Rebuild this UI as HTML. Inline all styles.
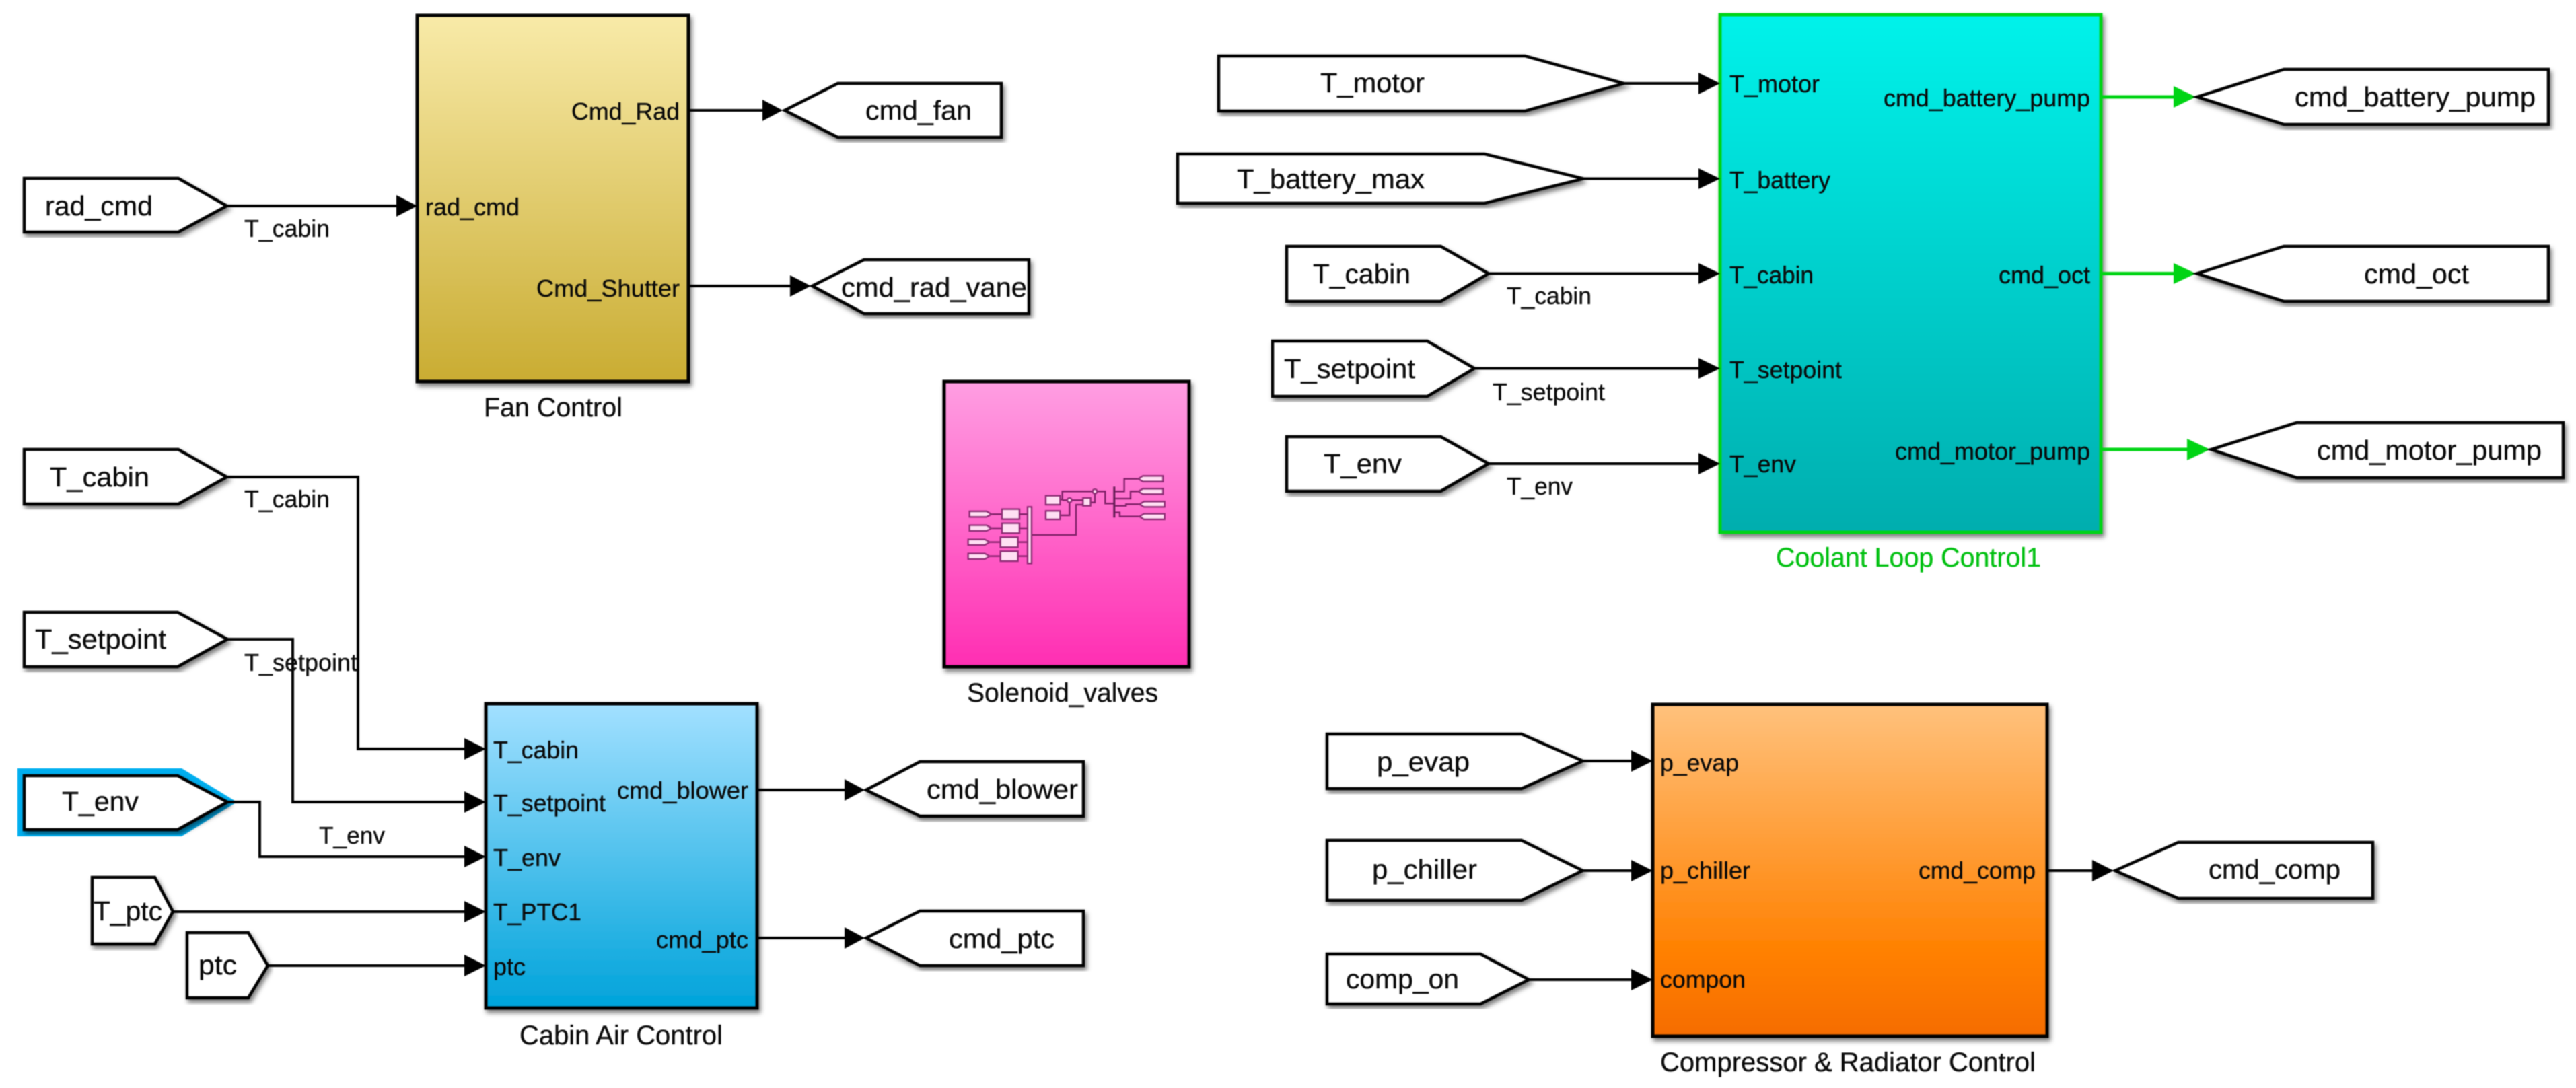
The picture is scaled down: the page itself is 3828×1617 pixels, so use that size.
<!DOCTYPE html>
<html><head><meta charset="utf-8"><title>Control diagram</title>
<style>
html,body{margin:0;padding:0;background:#fff;width:3828px;height:1617px;overflow:hidden}
svg{display:block;filter:blur(.7px)}
text{font-family:"Liberation Sans",sans-serif;fill:#0a0a0a;stroke:#0a0a0a;stroke-width:.35px}
.p{font-size:36px}.g{font-size:41px}.n{font-size:39.5px}
.go{fill:#fff;stroke:#000;stroke-width:4.5;stroke-linejoin:miter;filter:url(#sh)}
.b{stroke:#000;stroke-width:5;filter:url(#sh)}
.w{fill:none;stroke:#000;stroke-width:4}
.gw{fill:none;stroke:#00d414;stroke-width:5}
.m{fill:#ffdff3;stroke:#8a2a72;stroke-width:7}
.ml{fill:none;stroke:#7d1f66;stroke-width:7}
</style></head><body>
<svg xmlns="http://www.w3.org/2000/svg" width="3828" height="1617" viewBox="0 0 3828 1617">
<defs>
<filter id="sh" x="-5%" y="-5%" width="112%" height="115%"><feDropShadow dx="3" dy="5" stdDeviation="3.5" flood-color="#000" flood-opacity=".5"/></filter>
<linearGradient id="fan" x1="0" y1="0" x2="0" y2="1"><stop offset="0" stop-color="#f8eaa8"/><stop offset="1" stop-color="#c9ac32"/></linearGradient>
<linearGradient id="cab" x1="0" y1="0" x2="0" y2="1"><stop offset="0" stop-color="#a2e0ff"/><stop offset="1" stop-color="#00a3da"/></linearGradient>
<linearGradient id="cool" x1="0" y1="0" x2="0" y2="1"><stop offset="0" stop-color="#00f2ea"/><stop offset="1" stop-color="#00adae"/></linearGradient>
<linearGradient id="or" x1="0" y1="0" x2="0" y2="1"><stop offset="0" stop-color="#ffc17c"/><stop offset=".75" stop-color="#ff8000"/><stop offset="1" stop-color="#f56c00"/></linearGradient>
<linearGradient id="pk" x1="0" y1="0" x2="0" y2="1"><stop offset="0" stop-color="#ff9ee2"/><stop offset="1" stop-color="#ff2eb2"/></linearGradient>
</defs>

<!-- blocks -->
<rect class="b" x="620" y="23" width="403" height="544" fill="url(#fan)"/>
<rect class="b" x="722" y="1046" width="403" height="452" fill="url(#cab)"/>
<rect class="b" x="1403" y="567" width="364" height="424" fill="url(#pk)"/>
<rect x="2556" y="22" width="566" height="769" fill="url(#cool)" stroke="#00d414" stroke-width="5" filter="url(#sh)"/>
<rect class="b" x="2456" y="1047" width="586" height="493" fill="url(#or)"/>

<!-- mini diagram -->
<g transform="translate(1380 550) scale(.3333)">
<path class="ml" d="M280 643H327M280 705H327M272 767H320M272 830H320M405 643H441M405 705H441M398 767H441M398 830H441M459 735H657V600H688M586 577H596V541H731M596 580H618M586 648H628V590M638 580H688M722 590H741V551M751 541H787V595H825M832 541H872V485H935M832 573H900V541H935M832 605H880V598H940M832 635H852V653H940"/>
<polygon class="m" points="182,630 258,630 280,643 258,655 182,655"/>
<polygon class="m" points="182,692 258,692 280,705 258,717 182,717"/>
<polygon class="m" points="176,755 250,755 272,767 250,780 176,780"/>
<polygon class="m" points="176,818 250,818 272,830 250,843 176,843"/>
<rect class="m" x="327" y="620" width="78" height="45"/><rect class="m" x="327" y="683" width="78" height="44"/>
<rect class="m" x="320" y="745" width="78" height="45"/><rect class="m" x="320" y="808" width="78" height="44"/>
<rect class="m" x="441" y="610" width="18" height="252"/>
<rect class="m" x="522" y="560" width="64" height="40"/><rect class="m" x="522" y="628" width="64" height="38"/>
<rect class="m" x="688" y="570" width="34" height="35"/>
<circle class="m" cx="628" cy="580" r="10"/><circle class="m" cx="741" cy="541" r="10"/>
<rect x="823" y="520" width="9" height="138" fill="#5e1a50"/>
<polygon class="m" points="935,485 955,472 1045,472 1045,497 955,497"/>
<polygon class="m" points="935,541 955,529 1045,529 1045,553 955,553"/>
<polygon class="m" points="940,598 960,586 1052,586 1052,610 960,610"/>
<polygon class="m" points="940,653 960,641 1052,641 1052,666 960,666"/>
</g>

<!-- T_env highlight -->
<polygon points="26,1142 270,1142 352,1192 270,1243 26,1243" fill="#00aeef"/>

<!-- wires black -->
<path class="w" d="M337 306H595M1023 164H1135M1023 425H1176"/>
<path class="w" d="M337 709H532V1113H695M338 950H435V1192H695M338 1192H386V1273H695M257 1355H695M398 1435H695"/>
<path class="w" d="M1125 1174H1258M1125 1394H1258"/>
<path class="w" d="M2413 124H2525M2353 265.500H2525M2212 406.500H2525M2191 547.500H2525M2212 689H2525"/>
<path class="w" d="M2352 1131H2428M2352 1294H2428M2272 1456H2428M3042 1294H3112"/>
<path class="gw" d="M3122 144H3235M3122 406.500H3235M3122 668H3255"/>

<!-- arrowheads -->
<g fill="#000">
<polygon points="620,306 589,290 589,322"/>
<polygon points="1163,164 1133,148 1133,180"/>
<polygon points="1205,425 1174,409 1174,441"/>
<polygon points="722,1113 690,1097 690,1129"/>
<polygon points="722,1192 690,1176 690,1208"/>
<polygon points="722,1273 690,1257 690,1289"/>
<polygon points="722,1355 690,1339 690,1371"/>
<polygon points="722,1435 690,1419 690,1451"/>
<polygon points="1285,1174 1255,1158 1255,1190"/>
<polygon points="1285,1394 1255,1378 1255,1410"/>
<polygon points="2556,124 2524,108 2524,140"/>
<polygon points="2556,265.500 2524,250 2524,281"/>
<polygon points="2556,406.500 2524,391 2524,422"/>
<polygon points="2556,547.500 2524,532 2524,563"/>
<polygon points="2556,689 2524,673 2524,705"/>
<polygon points="2456,1131 2424,1115 2424,1147"/>
<polygon points="2456,1294 2424,1278 2424,1310"/>
<polygon points="2456,1456 2424,1440 2424,1472"/>
<polygon points="3141,1294 3109,1278 3109,1310"/>
</g>
<g fill="#00d414">
<polygon points="3263,144 3230,128 3230,160"/>
<polygon points="3263,406.500 3230,391 3230,422"/>
<polygon points="3284,668 3250,652 3250,684"/>
</g>

<!-- gotos / froms -->
<polygon class="go" points="36,265 265,265 337,306 265,345 36,345"/>
<polygon class="go" points="36,668 265,668 337,709 265,749 36,749"/>
<polygon class="go" points="36,910 264,910 338,950 264,991 36,991"/>
<polygon class="go" points="36,1153 264,1153 338,1192 264,1233 36,1233"/>
<polygon class="go" points="137,1304 230,1304 257,1355 230,1403 137,1403"/>
<polygon class="go" points="278,1386 369,1386 398,1435 369,1483 278,1483"/>
<polygon class="go" points="1166,164 1245,124 1488,124 1488,204 1245,204"/>
<polygon class="go" points="1207,425 1284,386 1529,386 1529,466 1284,466"/>
<polygon class="go" points="1287,1174 1367,1132 1610,1132 1610,1213 1367,1213"/>
<polygon class="go" points="1287,1394 1367,1354 1610,1354 1610,1435 1367,1435"/>
<polygon class="go" points="1811,83 2266,83 2413,124 2266,165 1811,165"/>
<polygon class="go" points="1750,229 2206,229 2353,265.500 2206,302 1750,302"/>
<polygon class="go" points="1912,366 2141,366 2212,406.500 2141,448 1912,448"/>
<polygon class="go" points="1891,507 2121,507 2191,547.500 2121,589 1891,589"/>
<polygon class="go" points="1912,649 2141,649 2212,689 2141,730 1912,730"/>
<polygon class="go" points="3265,144 3394,103 3787,103 3787,185 3394,185"/>
<polygon class="go" points="3265,406.500 3394,366 3787,366 3787,448 3394,448"/>
<polygon class="go" points="3286,668 3413,628 3809,628 3809,710 3413,710"/>
<polygon class="go" points="1972,1091 2261,1091 2352,1131 2261,1172 1972,1172"/>
<polygon class="go" points="1972,1249 2261,1249 2352,1294 2261,1338 1972,1338"/>
<polygon class="go" points="1972,1418 2200,1418 2272,1456 2200,1492 1972,1492"/>
<polygon class="go" points="3143,1294 3237,1252 3526,1252 3526,1335 3237,1335"/>

<!-- goto text -->
<text class="g" x="67" y="320" textLength="160" lengthAdjust="spacingAndGlyphs">rad_cmd</text>
<text class="g" x="74" y="723" textLength="148" lengthAdjust="spacingAndGlyphs">T_cabin</text>
<text class="g" x="52" y="964" textLength="195" lengthAdjust="spacingAndGlyphs">T_setpoint</text>
<text class="g" x="92" y="1205" textLength="114" lengthAdjust="spacingAndGlyphs">T_env</text>
<text class="g" x="139" y="1368" textLength="102" lengthAdjust="spacingAndGlyphs">T_ptc</text>
<text class="g" x="295" y="1448" textLength="57" lengthAdjust="spacingAndGlyphs">ptc</text>
<text class="g" x="1286" y="178" textLength="158" lengthAdjust="spacingAndGlyphs">cmd_fan</text>
<text class="g" x="1250" y="441" textLength="276" lengthAdjust="spacingAndGlyphs">cmd_rad_vane</text>
<text class="g" x="1377" y="1187" textLength="225" lengthAdjust="spacingAndGlyphs">cmd_blower</text>
<text class="g" x="1410" y="1409" textLength="157" lengthAdjust="spacingAndGlyphs">cmd_ptc</text>
<text class="g" x="1962" y="137" textLength="155" lengthAdjust="spacingAndGlyphs">T_motor</text>
<text class="g" x="1838" y="280" textLength="279" lengthAdjust="spacingAndGlyphs">T_battery_max</text>
<text class="g" x="1951" y="421" textLength="145" lengthAdjust="spacingAndGlyphs">T_cabin</text>
<text class="g" x="1908" y="562" textLength="195" lengthAdjust="spacingAndGlyphs">T_setpoint</text>
<text class="g" x="1967" y="703" textLength="116" lengthAdjust="spacingAndGlyphs">T_env</text>
<text class="g" x="3410" y="158" textLength="358" lengthAdjust="spacingAndGlyphs">cmd_battery_pump</text>
<text class="g" x="3513" y="421" textLength="156" lengthAdjust="spacingAndGlyphs">cmd_oct</text>
<text class="g" x="3443" y="683" textLength="334" lengthAdjust="spacingAndGlyphs">cmd_motor_pump</text>
<text class="g" x="2046" y="1146" textLength="138" lengthAdjust="spacingAndGlyphs">p_evap</text>
<text class="g" x="2039" y="1306" textLength="156" lengthAdjust="spacingAndGlyphs">p_chiller</text>
<text class="g" x="2000" y="1469" textLength="168" lengthAdjust="spacingAndGlyphs">comp_on</text>
<text class="g" x="3282" y="1306" textLength="196" lengthAdjust="spacingAndGlyphs">cmd_comp</text>

<!-- signal labels -->
<text class="p" x="363" y="352" textLength="127" lengthAdjust="spacingAndGlyphs">T_cabin</text>
<text class="p" x="363" y="754" textLength="127" lengthAdjust="spacingAndGlyphs">T_cabin</text>
<text class="p" x="363" y="997" textLength="168" lengthAdjust="spacingAndGlyphs">T_setpoint</text>
<text class="p" x="474" y="1254" textLength="98" lengthAdjust="spacingAndGlyphs">T_env</text>
<text class="p" x="2239" y="452" textLength="126" lengthAdjust="spacingAndGlyphs">T_cabin</text>
<text class="p" x="2218" y="595" textLength="167" lengthAdjust="spacingAndGlyphs">T_setpoint</text>
<text class="p" x="2239" y="735" textLength="98" lengthAdjust="spacingAndGlyphs">T_env</text>

<!-- port labels -->
<text class="p" x="632" y="320" textLength="140" lengthAdjust="spacingAndGlyphs">rad_cmd</text>
<text class="p" x="849" y="178" textLength="161" lengthAdjust="spacingAndGlyphs">Cmd_Rad</text>
<text class="p" x="797" y="441" textLength="213" lengthAdjust="spacingAndGlyphs">Cmd_Shutter</text>
<text class="p" x="733" y="1127" textLength="127" lengthAdjust="spacingAndGlyphs">T_cabin</text>
<text class="p" x="733" y="1206" textLength="167" lengthAdjust="spacingAndGlyphs">T_setpoint</text>
<text class="p" x="733" y="1287" textLength="100" lengthAdjust="spacingAndGlyphs">T_env</text>
<text class="p" x="733" y="1368" textLength="131" lengthAdjust="spacingAndGlyphs">T_PTC1</text>
<text class="p" x="733" y="1449" textLength="48" lengthAdjust="spacingAndGlyphs">ptc</text>
<text class="p" x="917" y="1187" textLength="195" lengthAdjust="spacingAndGlyphs">cmd_blower</text>
<text class="p" x="975" y="1409" textLength="137" lengthAdjust="spacingAndGlyphs">cmd_ptc</text>
<text class="p" x="2570" y="137" textLength="134" lengthAdjust="spacingAndGlyphs">T_motor</text>
<text class="p" x="2570" y="280" textLength="150" lengthAdjust="spacingAndGlyphs">T_battery</text>
<text class="p" x="2570" y="421" textLength="125" lengthAdjust="spacingAndGlyphs">T_cabin</text>
<text class="p" x="2570" y="562" textLength="167" lengthAdjust="spacingAndGlyphs">T_setpoint</text>
<text class="p" x="2570" y="702" textLength="99" lengthAdjust="spacingAndGlyphs">T_env</text>
<text class="p" x="2799" y="158" textLength="307" lengthAdjust="spacingAndGlyphs">cmd_battery_pump</text>
<text class="p" x="2970" y="421" textLength="136" lengthAdjust="spacingAndGlyphs">cmd_oct</text>
<text class="p" x="2816" y="683" textLength="290" lengthAdjust="spacingAndGlyphs">cmd_motor_pump</text>
<text class="p" x="2467" y="1146" textLength="117" lengthAdjust="spacingAndGlyphs">p_evap</text>
<text class="p" x="2467" y="1306" textLength="134" lengthAdjust="spacingAndGlyphs">p_chiller</text>
<text class="p" x="2467" y="1468" textLength="127" lengthAdjust="spacingAndGlyphs">compon</text>
<text class="p" x="2851" y="1306" textLength="174" lengthAdjust="spacingAndGlyphs">cmd_comp</text>

<!-- block names -->
<text class="n" x="719" y="619" textLength="206" lengthAdjust="spacingAndGlyphs">Fan Control</text>
<text class="n" x="1437" y="1043" textLength="284" lengthAdjust="spacingAndGlyphs">Solenoid_valves</text>
<text class="n" x="772" y="1552" textLength="302" lengthAdjust="spacingAndGlyphs">Cabin Air Control</text>
<text class="n" x="2639" y="842" textLength="394" lengthAdjust="spacingAndGlyphs" style="fill:#00c010;stroke:#00c010">Coolant Loop Control1</text>
<text class="n" x="2467" y="1592" textLength="558" lengthAdjust="spacingAndGlyphs">Compressor &amp; Radiator Control</text>
</svg>
</body></html>
